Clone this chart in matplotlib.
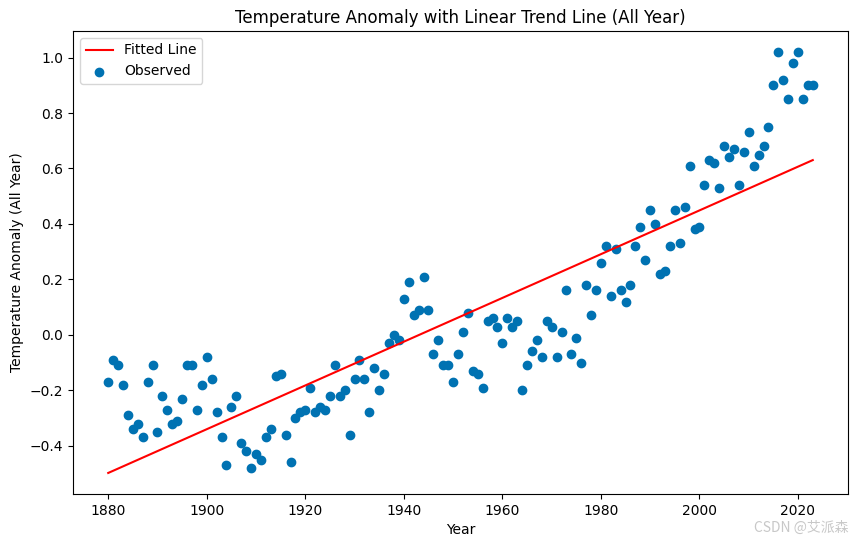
import numpy as np
import matplotlib
matplotlib.use("Agg")
import matplotlib.pyplot as plt

years = list(range(1880, 2024))
anomaly = [
    -0.17, -0.09, -0.11, -0.18, -0.29, -0.34, -0.32, -0.37, -0.17, -0.11,
    -0.35, -0.22, -0.27, -0.32, -0.31, -0.23, -0.11, -0.11, -0.27, -0.18,
    -0.08, -0.16, -0.28, -0.37, -0.47, -0.26, -0.22, -0.39, -0.42, -0.48,
    -0.43, -0.45, -0.37, -0.34, -0.15, -0.14, -0.36, -0.46, -0.30, -0.28,
    -0.27, -0.19, -0.28, -0.26, -0.27, -0.22, -0.11, -0.22, -0.20, -0.36,
    -0.16, -0.09, -0.16, -0.28, -0.12, -0.20, -0.14, -0.03, 0.00, -0.02,
    0.13, 0.19, 0.07, 0.09, 0.21, 0.09, -0.07, -0.02, -0.11, -0.11,
    -0.17, -0.07, 0.01, 0.08, -0.13, -0.14, -0.19, 0.05, 0.06, 0.03,
    -0.03, 0.06, 0.03, 0.05, -0.20, -0.11, -0.06, -0.02, -0.08, 0.05,
    0.03, -0.08, 0.01, 0.16, -0.07, -0.01, -0.10, 0.18, 0.07, 0.16,
    0.26, 0.32, 0.14, 0.31, 0.16, 0.12, 0.18, 0.32, 0.39, 0.27,
    0.45, 0.40, 0.22, 0.23, 0.32, 0.45, 0.33, 0.46, 0.61, 0.38,
    0.39, 0.54, 0.63, 0.62, 0.53, 0.68, 0.64, 0.67, 0.54, 0.66,
    0.73, 0.61, 0.65, 0.68, 0.75, 0.90, 1.02, 0.92, 0.85, 0.98,
    1.02, 0.85, 0.90, 0.90,
]

x = np.array(years, dtype=float)
y = np.array(anomaly)
slope, intercept = np.polyfit(x, y, 1)
fit = slope * x + intercept

W, H = 858, 545
fig = plt.figure(figsize=(W / 100, H / 100), dpi=100)
ax = fig.add_axes([73 / W, (H - 494) / H, (848 - 73) / W, (494 - 31) / H])
ax.plot(x, fit, color="red", label="Fitted Line")
ax.scatter(x, y, color="#0072B2", label="Observed")
ax.set_title("Temperature Anomaly with Linear Trend Line (All Year)")
ax.set_xlabel("Year")
ax.set_ylabel("Temperature Anomaly (All Year)")
ax.legend(loc="upper left")

fig.text(848 / W, 0.018, "CSDN @艾派森", ha="right", va="bottom", fontsize=10,
         color="#c8c8c8", family=["Noto Sans CJK SC", "DejaVu Sans"])

fig.savefig("out.png", dpi=100)
